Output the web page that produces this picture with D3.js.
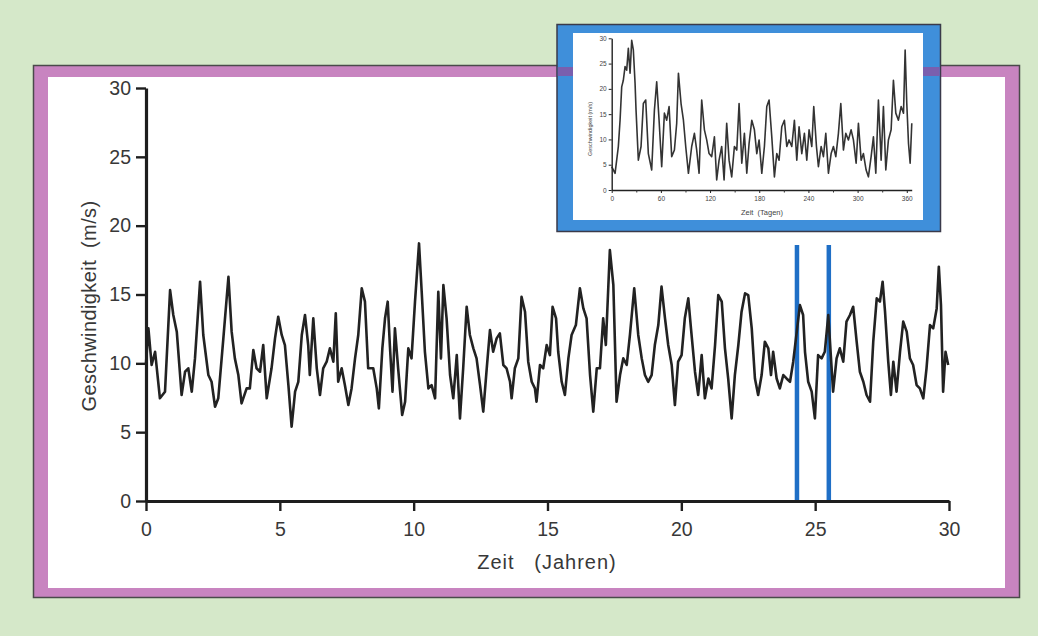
<!DOCTYPE html>
<html><head><meta charset="utf-8">
<script src="https://cdn.jsdelivr.net/npm/d3@7"></script>
<style>
html,body{margin:0;padding:0;background:#d5e8c9;}
svg{display:block;font-family:"Liberation Sans",Arial,Helvetica,sans-serif;}
</style></head><body>
<svg id="chart" width="1038" height="636"></svg>
<script>
// ---- main series: time in years, wind speed in m/s ----
const years = [0.00,0.09,0.21,0.34,0.52,0.71,0.90,1.02,1.15,1.33,1.46,1.58,1.71,1.83,2.02,2.14,2.33,2.45,2.58,2.70,2.89,3.08,3.20,3.32,3.45,3.57,3.76,3.88,4.01,4.13,4.26,4.38,4.51,4.69,4.82,4.94,5.07,5.19,5.32,5.44,5.57,5.69,5.82,5.94,6.06,6.12,6.25,6.38,6.50,6.62,6.75,6.87,7.00,7.09,7.18,7.31,7.43,7.56,7.68,7.81,7.93,8.06,8.18,8.30,8.49,8.62,8.70,8.83,8.93,9.03,9.11,9.21,9.30,9.42,9.57,9.68,9.80,9.92,10.05,10.20,10.30,10.42,10.55,10.67,10.80,10.92,11.02,11.11,11.23,11.36,11.48,11.61,11.73,11.85,11.98,12.10,12.23,12.35,12.48,12.60,12.73,12.85,12.97,13.10,13.22,13.35,13.47,13.60,13.66,13.78,13.91,14.03,14.16,14.28,14.41,14.53,14.59,14.72,14.84,14.97,15.09,15.19,15.32,15.40,15.53,15.65,15.78,15.90,16.06,16.21,16.34,16.46,16.59,16.71,16.84,16.96,17.08,17.18,17.33,17.46,17.58,17.71,17.83,17.96,18.08,18.24,18.39,18.52,18.64,18.76,18.89,19.01,19.14,19.26,19.39,19.51,19.64,19.76,19.88,20.01,20.13,20.26,20.36,20.51,20.63,20.76,20.88,21.01,21.13,21.26,21.38,21.51,21.63,21.75,21.88,22.00,22.13,22.25,22.38,22.50,22.63,22.75,22.87,23.00,23.12,23.25,23.35,23.43,23.56,23.68,23.81,23.93,24.06,24.18,24.43,24.55,24.62,24.74,24.87,24.99,25.11,25.24,25.36,25.49,25.67,25.80,25.92,26.05,26.17,26.30,26.42,26.55,26.67,26.80,26.92,27.05,27.17,27.30,27.42,27.52,27.61,27.73,27.83,27.92,28.04,28.17,28.29,28.42,28.54,28.66,28.79,28.91,29.04,29.16,29.29,29.41,29.54,29.62,29.70,29.78,29.87,29.97];
const speeds = [10.0,12.54,9.88,10.84,7.46,7.94,15.32,13.51,12.30,7.70,9.39,9.64,7.94,10.36,15.93,12.06,9.15,8.66,6.85,7.46,11.81,16.29,12.30,10.36,9.15,7.09,8.18,8.18,10.97,9.64,9.39,11.33,7.46,9.64,11.81,13.38,12.06,11.33,8.42,5.40,7.94,8.66,12.06,13.51,11.33,9.15,13.27,9.64,7.70,9.64,10.12,11.09,10.12,13.63,8.66,9.64,8.42,6.97,8.18,10.36,12.06,15.45,14.48,9.64,9.64,8.18,6.73,11.09,13.27,14.48,11.33,7.94,12.54,9.64,6.25,7.21,11.09,10.36,14.48,18.71,15.20,10.84,8.18,8.42,7.46,15.20,10.36,15.69,13.27,9.15,7.46,10.60,6.00,9.64,14.11,12.06,11.09,10.36,8.42,6.49,9.64,12.42,10.84,11.81,12.18,9.88,9.64,8.66,7.46,9.64,10.36,14.84,13.75,10.12,8.66,8.18,7.21,9.88,9.64,11.33,10.60,14.11,13.27,10.84,8.66,7.70,10.36,12.06,12.78,15.45,13.99,13.27,9.15,6.49,9.64,9.64,13.27,11.33,18.23,15.69,7.21,9.15,10.36,9.88,12.06,15.45,12.06,10.36,9.15,8.66,9.15,11.33,12.78,15.57,13.27,11.33,9.88,6.97,10.12,10.60,13.27,14.72,12.54,9.39,7.70,10.60,7.46,8.90,8.18,11.33,14.96,14.48,11.09,8.90,6.00,9.15,11.33,13.75,15.08,14.96,12.54,8.90,7.70,9.15,11.57,11.09,9.15,10.84,8.90,8.18,9.15,8.90,8.66,10.12,14.23,13.51,10.84,8.66,7.94,6.00,10.60,10.36,10.84,13.51,7.94,10.36,11.09,10.12,13.03,13.51,14.11,11.57,9.39,8.66,7.70,7.21,11.57,14.72,14.48,15.93,13.75,10.12,7.70,10.12,7.94,10.84,13.03,12.30,10.36,9.88,8.42,8.18,7.46,9.64,12.78,12.54,13.99,17.02,14.23,7.94,10.84,9.88];
const xTicks = [0,5,10,15,20,25,30];
const yTicks = [0,5,10,15,20,25,30];
const windowYears = [24.32, 25.51];   // blue markers: the one year shown in the inset
const windowTop = [18.6, 18.6];

// ---- inset series: time in days, speed ----
const days = [0,4.1,8.1,10.2,12.2,14.2,16.3,18.3,20.3,22.4,24.4,26.4,28.5,29.7,32.5,35.8,38.6,41.5,44.7,48.8,52.1,54.9,57.8,61.0,64.3,67.1,70.0,73.2,76.5,79.3,81.4,84.6,87.5,90.3,93.6,97.6,100.9,103.7,106.6,109.8,113.1,115.9,118.8,122.0,125.3,128.1,131.0,134.2,137.1,140.3,143.2,146.4,149.7,152.6,155.4,158.7,161.9,164.8,167.6,170.9,174.1,177.0,179.8,183.1,186.3,189.2,192.0,195.3,198.5,201.4,204.2,207.5,210.7,213.6,216.4,219.7,222.9,225.8,228.6,231.9,235.1,238.0,240.8,244.1,246.5,249.8,252.2,255.5,258.3,261.2,264.4,267.7,270.5,273.4,276.6,279.5,282.7,285.6,288.8,292.1,294.9,298.2,301.0,304.3,307.1,310.4,313.2,316.5,319.3,322.2,325.4,328.7,331.5,334.4,337.6,340.9,343.7,346.6,349.8,353.1,356.0,358.0,360.0,362.1,364.1,366.1];
const daySpeeds = [4.6,3.3,8.6,13.8,20.4,21.7,24.4,23.7,28.0,23.1,29.6,27.7,21.1,15.8,5.9,8.6,17.1,17.8,7.2,3.95,15.8,21.4,13.8,4.6,15.2,13.8,16.5,6.6,7.9,13.2,23.1,17.1,13.8,8.6,3.3,8.6,11.2,7.9,3.3,17.8,11.9,9.9,7.2,6.6,10.5,2.0,5.9,8.6,2.0,13.2,5.9,2.6,8.6,7.9,17.1,5.3,11.2,3.3,9.2,13.8,11.9,7.2,9.9,3.3,8.6,16.5,17.8,10.5,2.6,7.2,5.9,12.5,13.8,8.6,9.9,8.6,13.8,5.9,12.5,7.2,11.2,5.9,11.9,8.6,16.5,8.6,4.6,8.6,6.6,11.2,3.3,7.2,8.6,6.6,11.2,17.1,7.9,11.2,9.9,11.9,9.9,5.3,13.2,5.9,7.2,3.95,2.6,6.6,10.5,3.3,17.8,5.9,16.5,3.95,9.9,11.9,21.7,15.2,13.8,16.5,15.2,27.7,17.1,9.2,5.3,13.2];
const insetXTicks = [0,60,120,180,240,300,360];
const insetXMinor = [30,90,150,210,270,330];
const insetYTicks = [0,5,10,15,20,25,30];

const svg = d3.select("#chart");
const txt = "#383838";

// background
svg.append("rect").attr("x",0).attr("y",0).attr("width",1038).attr("height",636).attr("fill","#d5e8c9");
// main panel (pink frame, white interior)
svg.append("rect").attr("x",33.5).attr("y",65.5).attr("width",986).attr("height",532)
  .attr("fill","#c884c0").attr("stroke","#4a4a4a").attr("stroke-width",1.5);
svg.append("rect").attr("x",48).attr("y",77).attr("width",957).attr("height",511).attr("fill","#ffffff");

// scales
const x = d3.scaleLinear().domain([0,30]).range([146,949]);
const y = d3.scaleLinear().domain([0,30]).range([501,88]);

// blue window markers
svg.append("g").selectAll("line").data(windowYears).join("line")
  .attr("x1",d=>x(d)).attr("x2",d=>x(d))
  .attr("y1",(d,i)=>y(windowTop[i])).attr("y2",y(0))
  .attr("stroke","#1f6fc6").attr("stroke-width",4.5);

// main line
const pts = years.map((t,i)=>[t,speeds[i]]);
svg.append("path").datum(pts)
  .attr("fill","none").attr("stroke","#222").attr("stroke-width",2.6).attr("stroke-linejoin","round")
  .attr("d", d3.line().x(d=>x(d[0])).y(d=>y(d[1])));

// axes
const yAxis = svg.append("g").attr("transform","translate(146,0)")
  .call(d3.axisLeft(y).tickValues(yTicks).tickSize(10).tickSizeOuter(0).tickPadding(5));
const xAxis = svg.append("g").attr("transform","translate(0,501)")
  .call(d3.axisBottom(x).tickValues(xTicks).tickSize(10).tickSizeOuter(0).tickPadding(11));
[yAxis,xAxis].forEach(g=>{
  g.select(".domain").attr("stroke","#1e1e1e").attr("stroke-width",3.2);
  g.selectAll(".tick line").attr("stroke","#1e1e1e").attr("stroke-width",2.4);
  g.selectAll(".tick text").attr("fill",txt).attr("font-size",19.5)
    .attr("font-family","'Liberation Sans',Arial,sans-serif");
});

// axis titles
svg.append("text").attr("x",547).attr("y",569).attr("text-anchor","middle")
  .attr("font-size",20).attr("letter-spacing",1).attr("fill",txt).attr("xml:space","preserve").text("Zeit   (Jahren)");
svg.append("text").attr("transform","translate(96,306) rotate(-90)").attr("text-anchor","middle")
  .attr("font-size",20).attr("letter-spacing",0.4).attr("fill",txt).attr("xml:space","preserve").text("Geschwindigkeit  (m/s)");

// ---- inset ----
svg.append("rect").attr("x",557).attr("y",24.5).attr("width",383.5).attr("height",207)
  .attr("fill","#3f8fda").attr("stroke","#3a3a4a").attr("stroke-width",1.5);
// pink panel border seen through the blue frame
svg.append("rect").attr("x",557.8).attr("y",67).attr("width",15.2).attr("height",9).attr("fill","#7a5fae");
svg.append("rect").attr("x",923).attr("y",67).attr("width",16.7).attr("height",9).attr("fill","#7a5fae");
svg.append("rect").attr("x",573).attr("y",33).attr("width",350).attr("height",187).attr("fill","#ffffff");

const ix = d3.scaleLinear().domain([0,366]).range([611.7,911.7]);
const iy = d3.scaleLinear().domain([0,30]).range([190,38.3]);

const ipts = days.map((t,i)=>[t,daySpeeds[i]]);
svg.append("path").datum(ipts)
  .attr("fill","none").attr("stroke","#333").attr("stroke-width",1.6).attr("stroke-linejoin","round")
  .attr("d", d3.line().x(d=>ix(d[0])).y(d=>iy(d[1])));

const iyAxis = svg.append("g").attr("transform","translate(611.7,0)")
  .call(d3.axisLeft(iy).tickValues(insetYTicks).tickSize(3).tickSizeOuter(0).tickPadding(2));
const ixAxis = svg.append("g").attr("transform","translate(0,190)")
  .call(d3.axisBottom(ix).tickValues(insetXTicks).tickSize(3).tickSizeOuter(0).tickPadding(3));
svg.append("g").attr("transform","translate(0,190)")
  .call(d3.axisBottom(ix).tickValues(insetXMinor).tickSize(2.5).tickFormat(""))
  .call(g=>{g.select(".domain").remove(); g.selectAll(".tick line").attr("stroke","#333").attr("stroke-width",1);});
[iyAxis,ixAxis].forEach(g=>{
  g.select(".domain").attr("stroke","#222").attr("stroke-width",1.4);
  g.selectAll(".tick line").attr("stroke","#222").attr("stroke-width",1);
  g.selectAll(".tick text").attr("fill","#444").attr("font-size",6.5)
    .attr("font-family","'Liberation Sans',Arial,sans-serif");
});
svg.append("text").attr("x",762).attr("y",215).attr("text-anchor","middle")
  .attr("font-size",7.5).attr("fill","#444").attr("xml:space","preserve").text("Zeit  (Tagen)");
svg.append("text").attr("transform","translate(592,129) rotate(-90)").attr("text-anchor","middle")
  .attr("font-size",5.5).attr("fill","#444").text("Geschwindigkeit (m/s)");
</script>
</body></html>
